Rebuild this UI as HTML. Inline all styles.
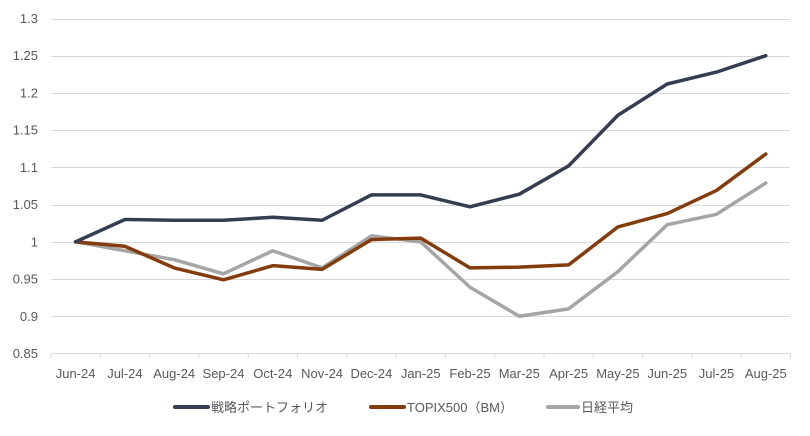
<!DOCTYPE html>
<html><head><meta charset="utf-8"><style>body{margin:0;background:#fff}svg text{font-family:"Liberation Sans","Noto Sans CJK JP",sans-serif;fill:#595959;font-size:13px}</style></head><body>
<svg width="810" height="431" xmlns="http://www.w3.org/2000/svg">
<g id="g" stroke="#d9d9d9" stroke-width="1"></g>
<g text-anchor="end" id="yl"></g>
<g id="c"></g>
</svg>
<script>
const ns="http://www.w3.org/2000/svg";
const yl=document.getElementById('yl'),g=document.getElementById('g');
const Y=v=>18.5+(1.3-v)/0.45*335, X=i=>75.6+i*49.3;
for(let k=0;k<10;k++){const v=1.3-k*0.05;const y=Math.round(Y(v))+0.5;const l=document.createElementNS(ns,'line');l.setAttribute('x1',51);l.setAttribute('x2',790);l.setAttribute('y1',y);l.setAttribute('y2',y);g.appendChild(l);
const t=document.createElementNS(ns,'text');t.setAttribute('x',38);t.setAttribute('y',Y(v)+4.5);t.textContent=(+v.toFixed(2)).toString();yl.appendChild(t);}
const c=document.getElementById('c');
for(let k=0;k<=15;k++){const l=document.createElementNS(ns,'line');const x=51+k*49.3;l.setAttribute('x1',x);l.setAttribute('x2',x);l.setAttribute('y1',353.5);l.setAttribute('y2',358);l.setAttribute('stroke','#d9d9d9');c.appendChild(l);}
const m=['Jun-24','Jul-24','Aug-24','Sep-24','Oct-24','Nov-24','Dec-24','Jan-25','Feb-25','Mar-25','Apr-25','May-25','Jun-25','Jul-25','Aug-25'];
m.forEach((s,i)=>{const t=document.createElementNS(ns,'text');t.setAttribute('x',X(i));t.setAttribute('y',378);t.setAttribute('text-anchor','middle');t.textContent=s;c.appendChild(t);});
const S=[['#a5a5a5',[1,.988,.976,.957,.988,.965,1.008,1,.939,.9,.91,.96,1.023,1.037,1.079]],
['#843c0c',[1,.994,.965,.949,.968,.963,1.003,1.005,.965,.966,.969,1.02,1.038,1.069,1.118]],
['#333f50',[1,1.03,1.029,1.029,1.033,1.029,1.063,1.063,1.047,1.064,1.102,1.17,1.212,1.228,1.25]]];
S.forEach(([col,d])=>{const p=document.createElementNS(ns,'polyline');p.setAttribute('points',d.map((v,i)=>X(i)+','+Y(v)).join(' '));p.setAttribute('fill','none');p.setAttribute('stroke',col);p.setAttribute('stroke-width',3.5);p.setAttribute('stroke-linejoin','round');p.setAttribute('stroke-linecap','round');c.appendChild(p);});
[['#333f50',175,208,'戦略ポートフォリオ'],['#843c0c',371,404,'TOPIX500（BM）'],['#a5a5a5',548,578,'日経平均']].forEach(([col,a,b,s])=>{const l=document.createElementNS(ns,'line');l.setAttribute('x1',a);l.setAttribute('x2',b);l.setAttribute('y1',407);l.setAttribute('y2',407);l.setAttribute('stroke',col);l.setAttribute('stroke-width',4);l.setAttribute('stroke-linecap','round');c.appendChild(l);const t=document.createElementNS(ns,'text');t.setAttribute('x',b+3);t.setAttribute('y',412);t.textContent=s;c.appendChild(t);});
</script>
</body></html>
